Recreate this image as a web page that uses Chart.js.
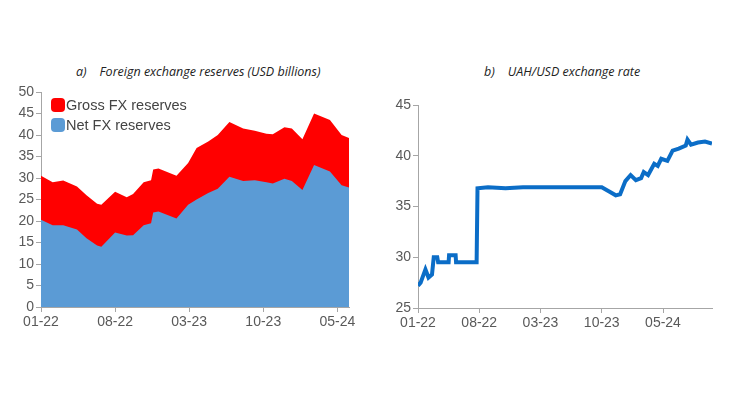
<!DOCTYPE html>
<html>
<head>
<meta charset="utf-8">
<script src="https://cdn.jsdelivr.net/npm/chart.js@4"></script>
<style>
  body { margin: 0; background: #fff; width: 730px; height: 410px; position: relative; overflow: hidden; font-family: "Liberation Sans", Arial, sans-serif; }
  canvas { position: absolute; top: 0; }
  .title { position: absolute; top: 63px; font-family: "Open Sans", sans-serif; font-style: italic; font-size: 12.5px; color: #222; white-space: pre; }
  .legend { position: absolute; left: 51px; top: 95px; font-size: 14.5px; color: #444; }
  .legend div { display: flex; align-items: center; height: 20px; }
  .legend span { display: inline-block; width: 14px; height: 14px; border-radius: 4px; margin-right: 1px; }
</style>
</head>
<body>
<div class="title" style="left:76px">a)    Foreign exchange reserves (USD billions)</div>
<div class="title" style="left:484px">b)    UAH/USD exchange rate</div>
<canvas id="left" width="365" height="410" style="left:0;width:365px;height:410px"></canvas>
<canvas id="right" width="365" height="410" style="left:365px;width:365px;height:410px"></canvas>
<div class="legend">
  <div><span style="background:#ff0000"></span>Gross FX reserves</div>
  <div><span style="background:#5b9bd5"></span>Net FX reserves</div>
</div>
<script>
// months since 01-22
const tickLabels = ['01-22', '08-22', '03-23', '10-23', '05-24'];
const resMonths = [0, 1.1, 2.1, 3.4, 4.3, 5.3, 5.7, 7, 8.1, 8.7, 9.7, 10.4, 10.6, 11.1, 12.8, 13.9, 14.7, 15.8, 16.7, 17.8, 19.1, 20.2, 21.3, 21.9, 23, 23.7, 24.7, 25.8, 27.3, 28.4, 29.1];
const grossFX = [30.5, 29, 29.4, 28, 26, 24, 23.8, 26.8, 25.5, 26.3, 29, 29.5, 32, 32.2, 30.5, 33.5, 37, 38.5, 40, 43, 41.5, 41, 40.3, 40.2, 41.8, 41.5, 39, 45, 43.5, 40, 39.3];
const netFX = [20.3, 19, 19, 18, 16, 14.3, 14, 17.3, 16.6, 16.7, 19, 19.5, 22, 22.2, 20.6, 23.8, 25, 26.5, 27.5, 30.3, 29.3, 29.5, 29, 28.7, 29.8, 29.3, 27.2, 33, 31.5, 28.3, 27.8];
const rateMonths = [0, 0.3, 0.85, 1.2, 1.6, 1.8, 2.2, 2.3, 3.5, 3.55, 4.3, 4.35, 6.7, 6.8, 8, 10, 12, 14, 16, 18, 21, 21.8, 22.6, 23.1, 23.7, 24.3, 24.9, 25.5, 25.8, 26.3, 27, 27.4, 27.8, 28.5, 29.1, 29.8, 30.6, 30.8, 31.2, 32, 32.8, 33.6];
const uahUsd = [27.2, 27.5, 28.8, 28.0, 28.3, 30, 30, 29.5, 29.5, 30.2, 30.2, 29.5, 29.5, 36.8, 36.9, 36.8, 36.9, 36.9, 36.9, 36.9, 36.9, 36.5, 36.1, 36.2, 37.5, 38.1, 37.6, 37.8, 38.4, 38.1, 39.2, 39.0, 39.7, 39.5, 40.5, 40.7, 41.0, 41.6, 41.1, 41.3, 41.4, 41.2];

const pts = (xs, ys) => xs.map((x, i) => ({ x: x, y: ys[i] }));
const axisColor = '#a6a6a6';
const tickFont = { family: '"Liberation Sans", Arial, sans-serif', size: 14 };

function xScale(max) {
  return {
    type: 'linear', min: 0, max: max,
    grid: { drawOnChartArea: false, color: axisColor, tickLength: 5 },
    border: { color: axisColor },
    ticks: { stepSize: 7, includeBounds: false, color: '#595959', font: tickFont, maxRotation: 0, padding: 2,
      callback: v => tickLabels[v / 7] },
    afterFit: s => { s.height = 30; }
  };
}
function yScale(min, max, step, width) {
  return {
    min: min, max: max,
    grid: { drawOnChartArea: false, color: axisColor, tickLength: 5 },
    border: { color: axisColor },
    ticks: { stepSize: step, color: '#595959', font: tickFont, padding: 2 },
    afterFit: s => { s.width = width; }
  };
}

new Chart(document.getElementById('left'), {
  type: 'line',
  data: {
    datasets: [
      { label: 'Net FX reserves', data: pts(resMonths, netFX), fill: 'origin', backgroundColor: '#5b9bd5', borderWidth: 0, pointRadius: 0, tension: 0 },
      { label: 'Gross FX reserves', data: pts(resMonths, grossFX), fill: 'origin', backgroundColor: '#ff0000', borderWidth: 0, pointRadius: 0, tension: 0 }
    ]
  },
  options: {
    responsive: false, animation: false,
    layout: { padding: { left: 0, right: 16, top: 92, bottom: 73 } },
    plugins: { legend: { display: false }, tooltip: { enabled: false } },
    scales: { x: xScale(29.1), y: yScale(0, 50, 5, 41) }
  }
});

new Chart(document.getElementById('right'), {
  type: 'line',
  data: {
    datasets: [
      { label: 'UAH/USD', data: pts(rateMonths, uahUsd), borderColor: '#0b6dc7', borderWidth: 4, pointRadius: 0, fill: false, tension: 0 }
    ]
  },
  options: {
    responsive: false, animation: false,
    layout: { padding: { left: 0, right: 18, top: 105, bottom: 72 } },
    plugins: { legend: { display: false }, tooltip: { enabled: false } },
    scales: { x: xScale(33.6), y: yScale(25, 45, 5, 53) }
  }
});
</script>
</body>
</html>
